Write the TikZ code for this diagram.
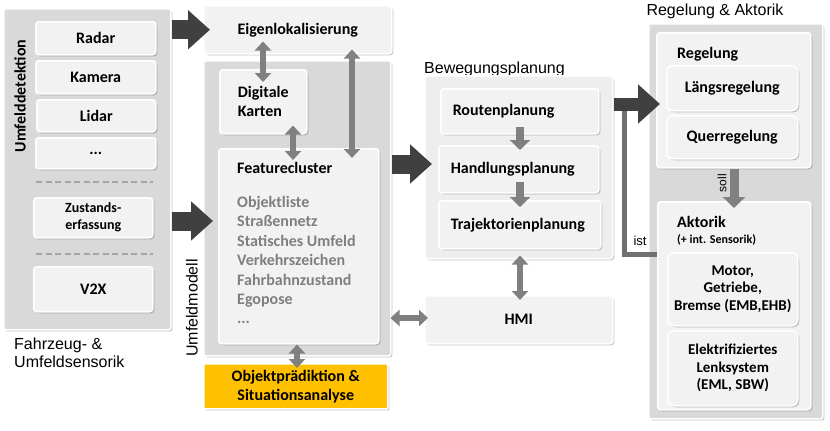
\documentclass[tikz,border=0pt]{standalone}
\usepackage{fontspec}
\setmainfont{Carlito}
\newfontfamily\arialf{Liberation Sans}
\usetikzlibrary{arrows.meta,shadows}
\definecolor{panelgray}{HTML}{D9D9D9}
\definecolor{boxgray}{HTML}{F2F2F2}
\definecolor{bewgray}{HTML}{EEEEEE}
\definecolor{darkarr}{HTML}{404040}
\definecolor{midarr}{HTML}{808080}
\definecolor{istgray}{HTML}{707070}
\definecolor{listgray}{HTML}{7F7F7F}
\definecolor{dashgray}{HTML}{A6A6A6}
\definecolor{orangebox}{HTML}{FFC000}
\tikzset{
  shad/.style={drop shadow={shadow xshift=1.5pt,shadow yshift=-1.5pt,fill=black,opacity=0.22}},
  panel/.style={fill=panelgray,draw=white,line width=1.5pt,rounded corners=2pt,shad,anchor=north west,inner sep=0pt},
  box/.style={fill=boxgray,draw=white,line width=1.5pt,rounded corners=3pt,shad,anchor=north west,inner sep=0pt,
    font=\bfseries\fontsize{16}{19}\selectfont,align=center},
  planbox/.style={box,inner xsep=12pt,text width=#1,align=left},
  rbox/.style={box,rounded corners=6pt},
  lbl/.style={font=\arialf\fontsize{16}{17.5}\selectfont,inner sep=0pt},
  bigarrow/.style={draw=darkarr,line width=19pt,-{Triangle[width=38pt,length=22pt]}},
  midarrow/.style={draw=midarr,line width=6pt,{Triangle[width=16pt,length=9pt]}-{Triangle[width=16pt,length=9pt]}},
  downarrow/.style={draw=midarr,line width=8pt,-{Triangle[width=20pt,length=10pt]}},
  istline/.style={draw=istgray,line width=5pt},
  sepline/.style={draw=dashgray,line width=1.5pt,dash pattern=on 6pt off 3.5pt},
}
\begin{document}
\begin{tikzpicture}[x=1pt,y=-1pt]
\useasboundingbox (0,0) rectangle (830,431);
% ---------- left panel ----------
\node[panel,minimum width=167pt,minimum height=321pt] (sens) at (3,8) {};
\node[box,minimum width=120pt,minimum height=33pt] (radar) at (35,21) {Radar};
\node[box,minimum width=120pt,minimum height=33pt] (kamera) at (35,60) {Kamera};
\node[box,minimum width=119pt,minimum height=32pt] (lidar) at (36,99) {Lidar};
\node[box,minimum width=120pt,minimum height=31pt] (dots) at (35,137) {...};
\coordinate (d1a) at (36,182); \coordinate (d1b) at (153,182);
\draw[sepline] (d1a) -- (d1b);
\node[box,minimum width=119pt,minimum height=40pt,font=\bfseries\fontsize{14}{17}\selectfont] (zust) at (33,197) {Zustands-\\erfassung};
\coordinate (d2a) at (36,254); \coordinate (d2b) at (153,254);
\draw[sepline] (d2a) -- (d2b);
\node[box,minimum width=119pt,minimum height=45pt] (v2x) at (33,266) {V2X};
\node[rotate=90,font=\bfseries\fontsize{16}{19}\selectfont,inner sep=0pt] (udet) at (20,96) {Umfelddetektion};
\node[lbl,anchor=north west,align=left] (sensl) at (14,338) {Fahrzeug- \&\\Umfeldsensorik};
% ---------- middle ----------
\node[box,minimum width=188pt,minimum height=48pt] (eigen) at (203,5) {Eigenlokalisierung};
\node[panel,minimum width=187pt,minimum height=295pt] (umfeld) at (203,60) {};
\node[lbl,rotate=90,anchor=west] (umfeldl) at (192,357) {Umfeldmodell};
\node[box,minimum width=87pt,minimum height=64pt,align=left] (karten) at (219,69) {Digitale\\Karten};
\node[box,minimum width=160pt,minimum height=195pt] (feat) at (218,148) {};
\node[font=\bfseries\fontsize{16}{19}\selectfont,anchor=north west,inner sep=0pt] (featt) at (237,162) {Featurecluster};
\node[font=\bfseries\fontsize{16}{19.4}\selectfont,text=listgray,anchor=north west,align=left,inner sep=0pt] (featl) at (237,196)
  {Objektliste\\Straßennetz\\Statisches Umfeld\\Verkehrszeichen\\Fahrbahnzustand\\Egopose\\...};
\node[box,fill=orangebox,rounded corners=1pt,minimum width=184pt,minimum height=45pt] (objp) at (203,363) {Objektprädiktion \&\\Situationsanalyse};
% ---------- Bewegungsplanung ----------
\node[lbl,anchor=base west] (bewl) at (424,73) {Bewegungsplanung};
\node[box,fill=bewgray,minimum width=188pt,minimum height=183pt] (bew) at (424,75) {};
\node[planbox=134pt,minimum height=45pt] (route) at (440,88) {Routenplanung};
\node[planbox=136pt,minimum height=47pt] (handl) at (438,145) {Handlungsplanung};
\node[planbox=138pt,minimum height=48pt] (traj) at (438,200) {Trajektorienplanung};
\node[box,minimum width=188pt,minimum height=48pt] (hmi) at (424,295) {HMI};
% ---------- Regelung & Aktorik ----------
\node[lbl,anchor=base] (ral) at (715,15) {Regelung \& Aktorik};
\node[panel,minimum width=174pt,minimum height=395pt] (ra) at (648,23) {};
\node[box,minimum width=154pt,minimum height=135pt] (reg) at (656,32) {};
\node[font=\bfseries\fontsize{16}{19}\selectfont,anchor=base west,inner sep=0pt] (regt) at (677,58) {Regelung};
\node[rbox,minimum width=131pt,minimum height=45pt] (laengs) at (666,65) {Längsregelung};
\node[rbox,minimum width=131pt,minimum height=43pt] (quer) at (666,115) {Querregelung};
\node[box,minimum width=153pt,minimum height=208pt] (akt) at (657,201) {};
\node[font=\bfseries\fontsize{16}{19}\selectfont,anchor=base west,inner sep=0pt] (aktt) at (677,227) {Aktorik};
\node[font=\bfseries\fontsize{12}{14}\selectfont,anchor=base west,inner sep=0pt] (akts) at (677,243) {(+ int. Sensorik)};
\node[rbox,minimum width=130pt,minimum height=73pt,font=\bfseries\fontsize{15}{17.5}\selectfont] (motor) at (667,252) {Motor,\\Getriebe,\\Bremse (EMB,EHB)};
\node[rbox,minimum width=130pt,minimum height=75pt,font=\bfseries\fontsize{15}{17.5}\selectfont] (elek) at (667,330) {Elektrifiziertes\\Lenksystem\\(EML, SBW)};
% ---------- connectors ----------
\draw[bigarrow,shorten >=-7pt] (sens.east |- eigen.west) -- (eigen.west);
\draw[bigarrow,shorten >=-10pt] (sens.east |- 0,221) -- (umfeld.west |- 0,221);
\draw[bigarrow,shorten >=-8pt] (umfeld.east |- 0,164) -- (bew.west |- 0,164);
\coordinate (istjoin) at (624,104);
\draw[istline] (akt.west |- 0,254) -| (istjoin);
\node[font=\arialf\fontsize{13}{15}\selectfont,inner sep=0pt,anchor=base] (istl) at (640,245) {ist};
\draw[bigarrow,line width=13pt,shorten >=-4pt] (bew.east |- 0,104) -- (reg.west |- 0,104);
\draw[midarrow,shorten <=-13pt,shorten >=-13pt] (eigen.south -| 263,0) -- (karten.north -| 263,0);
\draw[midarrow,shorten <=-9pt,shorten >=-12pt] (karten.south -| 293,0) -- (feat.north -| 293,0);
\draw[midarrow,shorten <=-5pt,shorten >=-10pt] (eigen.south -| 352,0) -- (feat.north -| 352,0);
\draw[midarrow,shorten <=0pt,shorten >=-5pt] (feat.south -| 297,0) -- (objp.north -| 297,0);
\draw[midarrow,shorten <=-1pt,shorten >=-4pt] (umfeld.east |- 0,318) -- (hmi.west |- 0,318);
\draw[midarrow,shorten <=-4pt,shorten >=-5pt] (bew.south -| 520,0) -- (hmi.north -| 520,0);
\draw[downarrow,shorten <=-8pt,shorten >=-5pt] (route.south -| 520,0) -- (handl.north -| 520,0);
\draw[downarrow,shorten <=-12pt,shorten >=-7pt] (handl.south -| 520,0) -- (traj.north -| 520,0);
\draw[downarrow,line width=9pt,-{Triangle[width=22pt,length=11pt]},shorten >=-7pt] (reg.south -| 734,0) -- (akt.north -| 734,0);
\node[font=\arialf\fontsize{12}{14}\selectfont,rotate=90,inner sep=0pt] (solll) at (722,183) {soll};
\end{tikzpicture}
\end{document}
